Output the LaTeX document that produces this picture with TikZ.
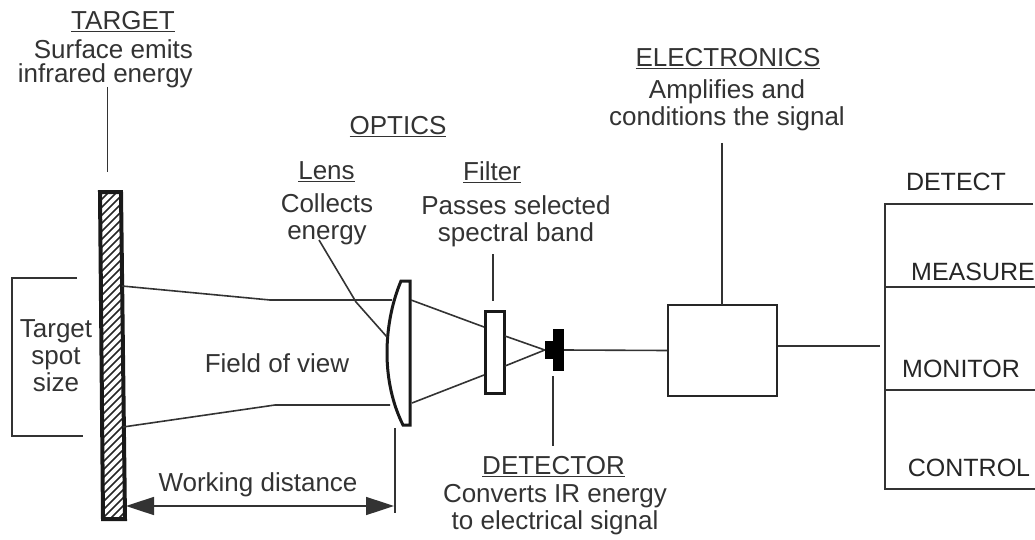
\documentclass[tikz,border=0pt]{standalone}
\usepackage{fontspec}
\setmainfont{Liberation Sans}
\usetikzlibrary{arrows.meta}
\begin{document}
\begin{tikzpicture}[x=1pt,y=-1pt,
txt/.style={%
font=\fontsize{26}{27}\selectfont,
text=black!80,
align=center,
inner sep=0pt
},
output/.style={%
font=\fontsize{25}{27}\selectfont,
text=black!85,
inner sep=0pt
},
wire/.style={%
line width=1.6pt,
draw=black!80
},
part/.style={%
line width=3pt,
draw=black!90,
fill=white
},
]
\useasboundingbox(0,0)rectangle(1035,540);
%% Target
\begin{scope}
\clip(100,192)--(121,192)--(125,519)--(103,519)--cycle;
\foreach \y in {190,198,...,560}
\draw[black!85,line width=1.7pt](95,\y)--(130,\y-35);
\end{scope}
\draw[line width=4pt,draw=black!90](100,192)--(121,192)--(125,519)--(103,519)--cycle;
\coordinate(targetlead)at(107.5,87);
\draw[wire](targetlead)--(107.5,172);
\node[txt](targetlabel)at(123,22){\underline{TARGET}};
\node[txt,align=right,anchor=east](targettext)at(193,63.5){Surface emits\\[-3pt]infrared energy};
%% Spot size
\coordinate(spottop)at(77,278);
\coordinate(spotbot)at(83,436);
\draw[wire](spottop)-|(12,436)--(spotbot);
\node[txt](spot)at(56,356){Target\\spot\\size};
%% Optics
\node[txt](optics)at(398,127){\underline{OPTICS}};
\node[txt](lenslabel)at(326.5,172){\underline{Lens}};
\node[txt](lenstext)at(327,219.5){Collects\\energy};
\node[txt](filterlabel)at(492,172){\underline{Filter}};
\node[txt](filtertext)at(516,221){Passes selected\\spectral band};
\node[txt](fov)at(277,363){Field of view};
%% Lens
\draw[part](401,281)--(410,281)--(410,425)--(403,425)..controls(393,405)and(387,380)..(387,353)..controls(387,325)and(393,300)..cycle;
\coordinate(lensleft)at(387,337);
\draw[wire](319,240)--(356,302)--(lensleft);
%% Filter
\node[part,minimum width=19pt,minimum height=82pt,inner sep=0pt](filter)at(494.5,352){};
\draw[wire](493,254)--(493,301);
%% Detector
\node[fill=black,minimum width=11pt,minimum height=42pt,inner sep=0pt](detector)at(558.5,350){};
\node[fill=black,minimum width=8pt,minimum height=18pt,inner sep=0pt](detbase)at(549,350){};
\draw[wire](553,376)--(553,446);
%% Field of view
\draw[wire](122,286)--(270,300)--(392,300);
\draw[wire](123,427)--(275,405)--(390,405);
\draw[wire](411,300)--(484,327);
\draw[wire](412,403)--(484,375);
\draw[wire](505,336)--(detbase.west);
\draw[wire](505,366)--(detbase.west);
%% Working distance
\coordinate(workleft)at(126,506);
\coordinate(workright)at(394,506);
\draw[wire,{Triangle[length=28pt,width=18pt]}-{Triangle[length=28pt,width=18pt]}](workleft)--(workright);
\draw[wire](395,428)--(395,513);
\node[txt](working)at(258,485){Working distance};
%% Detector text
\node[txt](detectorlabel)at(553.5,467){\underline{DETECTOR}};
\node[txt](detectortext)at(555,510){Converts IR energy\\to electrical signal};
%% Electronics
\node[draw=black!85,line width=1.8pt,minimum width=109pt,minimum height=91pt,inner sep=0pt](box)at(722.5,350.5){};
\draw[wire](detector.east)--(box.west);
\draw[wire](722,143)--(722,305);
\node[txt](electronics)at(728,59){\underline{ELECTRONICS}};
\node[txt](electronicstext)at(727,105){Amplifies and\\conditions the signal};
%% Outputs
\coordinate(busmid)at(880,346);
\draw[wire](box.east|-busmid)--(busmid);
\draw[wire,line width=2pt](1033,204)-|(885,489)--(1035,489);
\draw[wire](885,287)--(1035,287);
\draw[wire](885,390)--(1035,390);
\node[output](detect)at(956,182){DETECT};
\node[output](measure)at(973,272){MEASURE};
\node[output](monitor)at(961,369){MONITOR};
\node[output](control)at(969,468){CONTROL};
\end{tikzpicture}
\end{document}
